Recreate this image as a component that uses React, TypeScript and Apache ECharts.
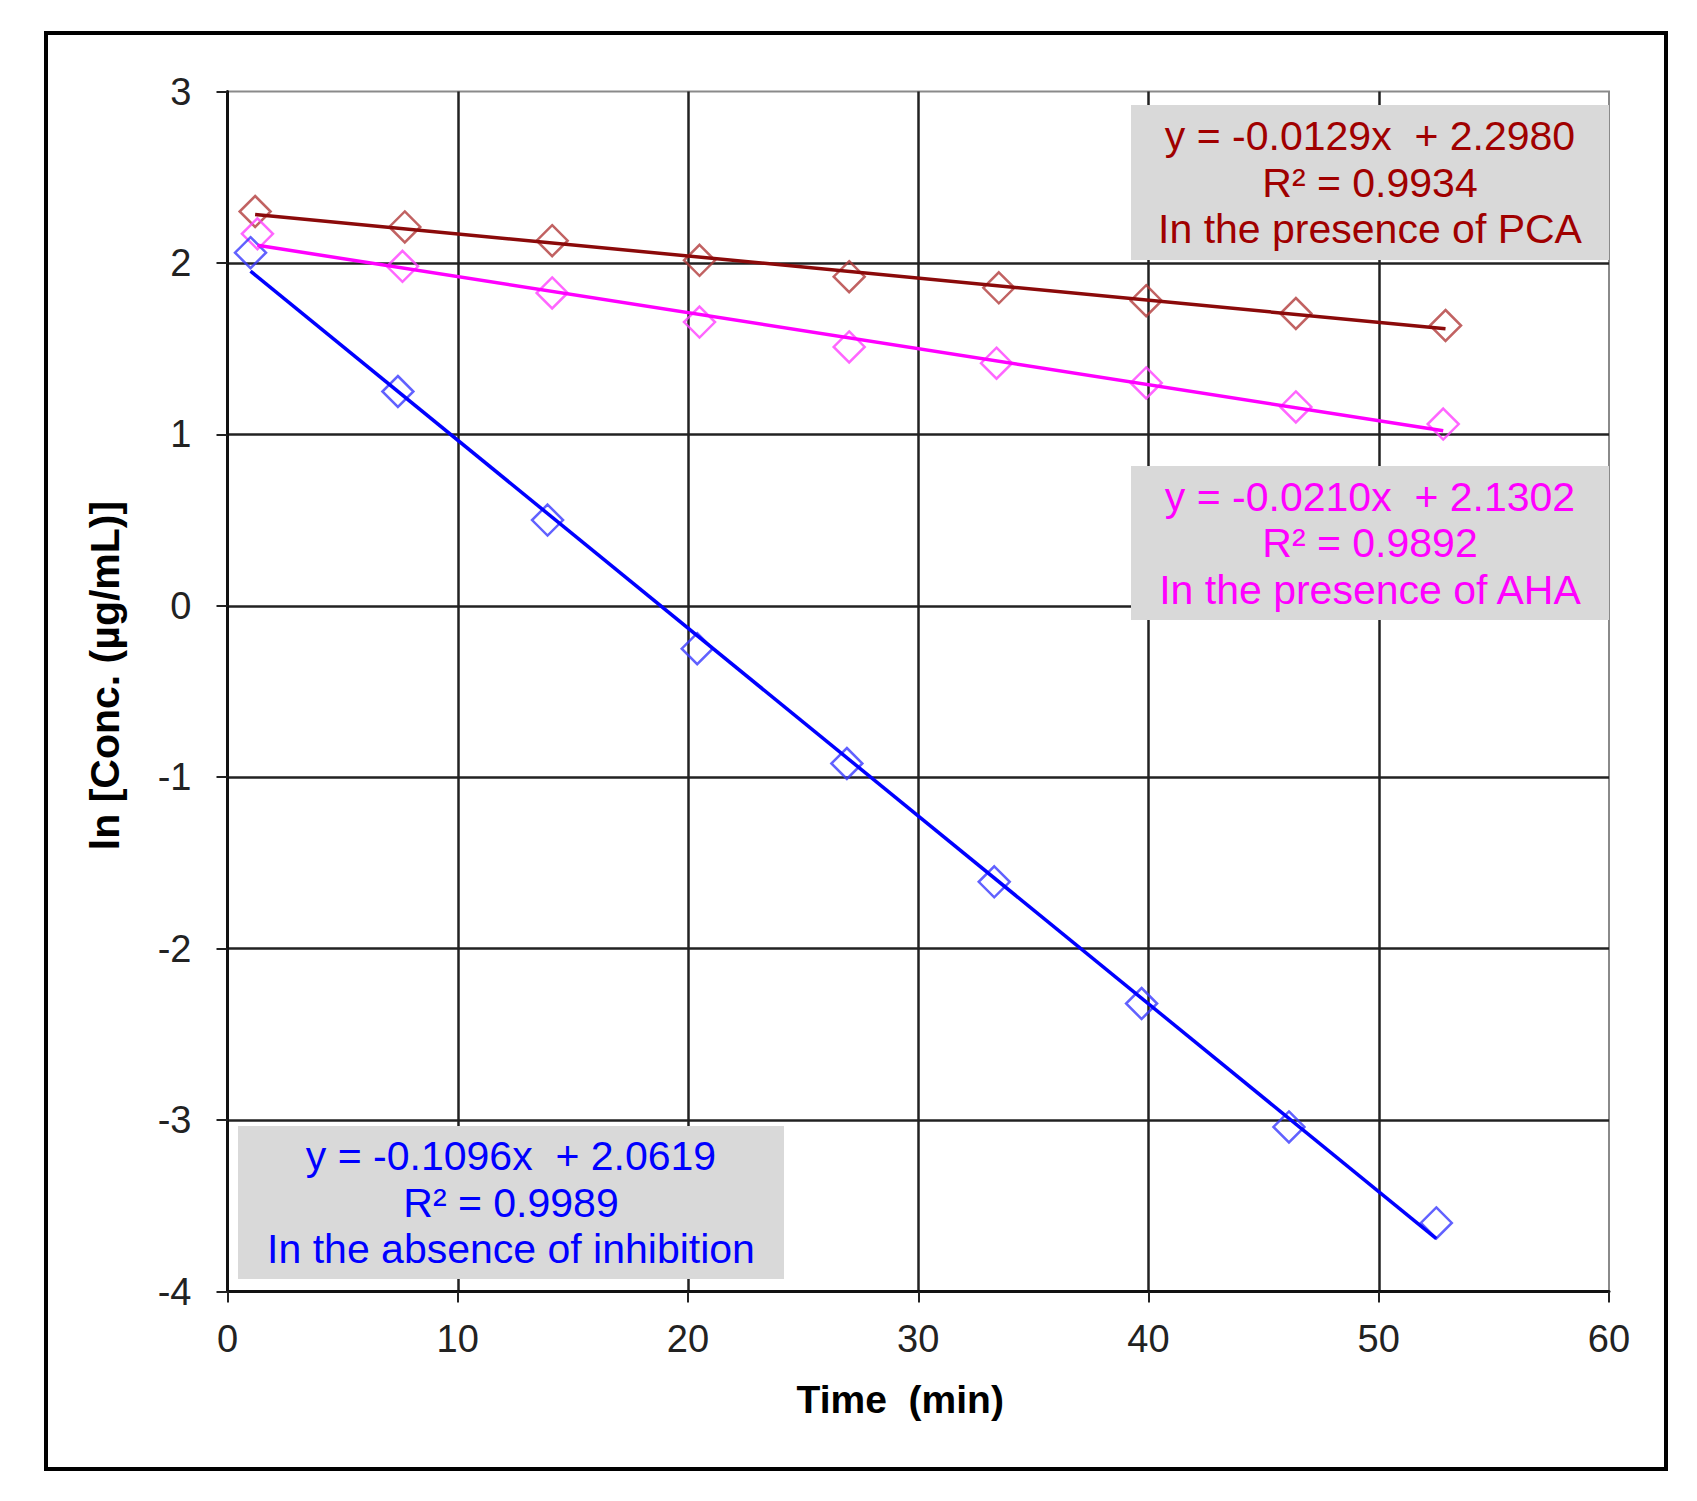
import React, { useEffect, useRef } from "react";
import * as echarts from "echarts";

// Time (min) readings
const pcaTime = [1.2, 7.7, 14.1, 20.5, 27.0, 33.5, 39.9, 46.4, 52.9];
const pcaLnConc = [2.30, 2.21, 2.13, 2.015, 1.92, 1.855, 1.78, 1.705, 1.635];

const ahaTime = [1.3, 7.6, 14.1, 20.5, 27.0, 33.4, 39.9, 46.4, 52.8];
const ahaLnConc = [2.17, 1.98, 1.825, 1.655, 1.51, 1.415, 1.30, 1.16, 1.06];

const noneTime = [1.0, 7.4, 13.9, 20.4, 26.9, 33.3, 39.7, 46.1, 52.5];
const noneLnConc = [2.06, 1.25, 0.50, -0.25, -0.92, -1.61, -2.32, -3.04, -3.60];

// trendline end points (x, y)
const pcaTrend = [[1.2, 2.283], [52.9, 1.616]];
const ahaTrend = [[1.3, 2.103], [52.8, 1.021]];
const noneTrend = [[1.0, 1.952], [52.5, -3.692]];

const pcaLabel = ["y = -0.0129x  + 2.2980", "R² = 0.9934", "In the presence of PCA"];
const ahaLabel = ["y = -0.0210x  + 2.1302", "R² = 0.9892", "In the presence of AHA"];
const noneLabel = ["y = -0.1096x  + 2.0619", "R² = 0.9989", "In the absence of inhibition"];

const xTitle = "Time  (min)";
const yTitle = "ln [Conc. (µg/mL)]";

const FONT = "'Liberation Sans', Arial, Helvetica, sans-serif";

function zip(xs: number[], ys: number[]) {
  return xs.map((x, i) => [x, ys[i]]);
}

function labelBox(x: number, y: number, w: number, h: number, lines: string[], color: string) {
  return {
    type: "group",
    z: 100,
    children: [
      { type: "rect", shape: { x, y, width: w, height: h }, style: { fill: "#d9d9d9" }, z: 100 },
      {
        type: "text",
        x: x + w / 2,
        y: y + h / 2,
        z: 101,
        style: {
          text: lines.join("\n"),
          fill: color,
          fontSize: 41,
          fontFamily: FONT,
          lineHeight: 46.5,
          align: "center",
          verticalAlign: "middle",
        },
      },
    ],
  };
}

export default function App() {
  const ref = useRef<HTMLDivElement>(null);
  useEffect(() => {
    if (!ref.current) return;
    const chart = echarts.init(ref.current, undefined, { renderer: "svg" });
    const marker = (color: string) => ({
      type: "scatter",
      symbol: "diamond",
      symbolSize: 31,
      itemStyle: { color: "rgba(0,0,0,0)", borderColor: color, borderWidth: 2.5 },
      z: 3,
    });
    const trend = (color: string, width: number) => ({
      type: "line",
      showSymbol: false,
      symbol: "none",
      lineStyle: { color, width },
      z: 4,
    });
    chart.setOption({
      animation: false,
      backgroundColor: "#ffffff",
      grid: {
        left: 227.5,
        top: 91.5,
        right: 88,
        bottom: 209.5,
        show: true,
        borderColor: "#8a8a8a",
        borderWidth: 2,
        backgroundColor: "transparent",
      },
      xAxis: {
        type: "value",
        min: 0,
        max: 60,
        interval: 10,
        name: xTitle,
        nameLocation: "middle",
        nameGap: 88,
        nameTextStyle: {
          fontFamily: FONT,
          fontSize: 39,
          fontWeight: "bold",
          color: "#000",
          verticalAlign: "top",
          padding: [0, 36, 0, 0],
        },
        axisLine: { show: true, onZero: false, lineStyle: { color: "#111", width: 3 } },
        axisTick: { show: true, inside: false, length: 11, lineStyle: { color: "#222", width: 2 } },
        axisLabel: { fontFamily: FONT, fontSize: 38, color: "#222", margin: 28 },
        splitLine: { show: true, showMinLine: false, showMaxLine: false, lineStyle: { color: "#222", width: 2.5 } },
      },
      yAxis: {
        type: "value",
        min: -4,
        max: 3,
        interval: 1,
        name: yTitle,
        nameLocation: "middle",
        nameGap: 102,
        nameRotate: 90,
        nameTextStyle: {
          fontFamily: FONT,
          fontSize: 41,
          fontWeight: "bold",
          color: "#000",
          padding: [0, 0, 0, 32],
        },
        axisLine: { show: true, onZero: false, lineStyle: { color: "#111", width: 3 } },
        axisTick: { show: true, inside: false, length: 11, lineStyle: { color: "#222", width: 2 } },
        axisLabel: { fontFamily: FONT, fontSize: 38, color: "#222", margin: 36 },
        splitLine: { show: true, showMinLine: false, showMaxLine: false, lineStyle: { color: "#222", width: 2.5 } },
      },
      series: [
        { ...marker("#b23b3b"), name: "PCA", data: zip(pcaTime, pcaLnConc) },
        { ...marker("#ff40ff"), name: "AHA", data: zip(ahaTime, ahaLnConc) },
        { ...marker("#3a3aff"), name: "No inhibition", data: zip(noneTime, noneLnConc) },
        { ...trend("#8b0a0a", 3.5), name: "PCA trend", data: pcaTrend },
        { ...trend("#ff00ff", 3.5), name: "AHA trend", data: ahaTrend },
        { ...trend("#0000ff", 3.5), name: "No inhibition trend", data: noneTrend },
      ],
      graphic: [
        {
          type: "rect",
          shape: { x: 46, y: 33, width: 1620, height: 1436 },
          style: { fill: "none", stroke: "#000", lineWidth: 4 },
          z: 200,
          silent: true,
        },
        labelBox(1131, 105, 478, 155, pcaLabel, "#a00000"),
        labelBox(1131, 466, 478, 154, ahaLabel, "#ff00ff"),
        labelBox(238, 1126, 546, 153, noneLabel, "#0000ff"),
      ],
    });
    return () => chart.dispose();
  }, []);
  return (
    <div
      ref={ref}
      style={{ position: "absolute", left: 0, top: 0, width: 1697, height: 1501, background: "#fff" }}
    />
  );
}
